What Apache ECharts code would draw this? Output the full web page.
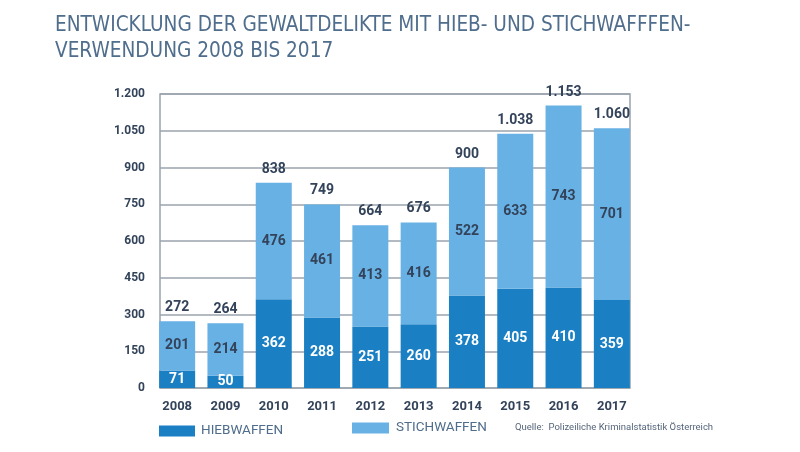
<!DOCTYPE html>
<html><head><meta charset="utf-8">
<script src="https://cdn.jsdelivr.net/npm/echarts@6/dist/echarts.min.js"></script>
<style>html,body{margin:0;padding:0;background:#fff}#c{width:800px;height:452px}</style>
</head><body><div id="c"></div>
<script>
var years = ['2008','2009','2010','2011','2012','2013','2014','2015','2016','2017'];
var hieb = [71, 50, 362, 288, 251, 260, 378, 405, 410, 359];
var stich = [201, 214, 476, 461, 413, 416, 522, 633, 743, 701];
var totals = [272, 264, 838, 749, 664, 676, 900, 1038, 1153, 1060];
var yTicks = [0, 150, 300, 450, 600, 750, 900, 1050, 1200];

function de(v){ return String(v).replace(/\B(?=(\d{3})+(?!\d))/g, '.'); }
var txt = '#33435a';
var cond = "'DejaVu Sans Condensed', 'Roboto Condensed', Roboto, sans-serif";
var chart = echarts.init(document.getElementById('c'));
chart.setOption({
  animation: false,
  title: {
    text: 'ENTWICKLUNG DER GEWALTDELIKTE MIT HIEB- UND STICHWAFFFEN-\nVERWENDUNG 2008 BIS 2017',
    left: 50, top: 8,
    textStyle: { fontFamily: cond, fontWeight: 'normal', fontSize: 20.6, color: '#4f6d8c', lineHeight: 26 }
  },
  legend: [
    { data: ['HIEBWAFFEN'], left: 154, top: 419, itemWidth: 36, itemHeight: 11, icon: 'rect', itemGap: 6,
      textStyle: { fontFamily: 'Roboto', fontSize: 13.5, color: '#4f6d8c', padding: [0,0,0,1] } },
    { data: ['STICHWAFFEN'], left: 347, top: 416, itemWidth: 37, itemHeight: 11, icon: 'rect',
      textStyle: { fontFamily: 'Roboto', fontSize: 13.5, color: '#4f6d8c', padding: [0,0,0,2] } }
  ],
  graphic: [{ type: 'text', left: 515, top: 423, style: { text: 'Quelle:  Polizeiliche Kriminalstatistik Österreich', fontFamily: 'Roboto', fontSize: 9.5, fill: '#55657a' } }],
  grid: [
    { left: 153, right: 164, top: 94, bottom: 64 },
    { left: 160, right: 170, top: 94, bottom: 64, show: true, borderColor: '#9aa3ad', borderWidth: 1.5, backgroundColor: 'transparent' }
  ],
  xAxis: [
    { type: 'category', gridIndex: 0, data: years, axisLine: { show: false }, axisTick: { show: false },
      axisLabel: { margin: 12, fontFamily: 'Roboto', fontWeight: 'bold', fontSize: 13, color: txt } },
    { type: 'value', gridIndex: 1, show: false, min: 0, max: 1 }
  ],
  yAxis: [
    { type: 'value', gridIndex: 0, min: 0, max: 1200, interval: 150, show: false },
    { type: 'value', gridIndex: 1, min: 0, max: 1200, interval: 150,
      axisLine: { show: false }, axisTick: { show: false },
      splitLine: { lineStyle: { color: '#9aa3ad', width: 1.5 } },
      axisLabel: { margin: 15, fontFamily: 'Roboto', fontWeight: 'bold', fontSize: 12, color: txt, formatter: function(v){ return de(v); } } }
  ],
  series: [
    { name: 'HIEBWAFFEN', type: 'bar', stack: 'a', xAxisIndex: 0, yAxisIndex: 0, data: hieb, barWidth: 36,
      itemStyle: { color: '#1a7fc3' }, z: 5,
      label: { show: true, position: 'inside', fontFamily: 'Roboto', fontWeight: 'bold', fontSize: 14, color: '#ffffff' } },
    { name: 'STICHWAFFEN', type: 'bar', stack: 'a', xAxisIndex: 0, yAxisIndex: 0, data: stich, barWidth: 36,
      itemStyle: { color: '#68b1e5' }, z: 5,
      label: { show: true, position: 'inside', fontFamily: 'Roboto', fontWeight: 'bold', fontSize: 14, color: txt } },
    { name: 'total', type: 'scatter', xAxisIndex: 0, yAxisIndex: 0, data: totals, symbolSize: 1,
      itemStyle: { color: 'rgba(0,0,0,0)', opacity: 1 }, z: 6, silent: true,
      label: { show: true, position: 'top', distance: 6, fontFamily: 'Roboto', fontWeight: 'bold', fontSize: 14, color: txt,
        formatter: function(p){ return de(p.value); } } }
  ]
});
</script></body></html>
